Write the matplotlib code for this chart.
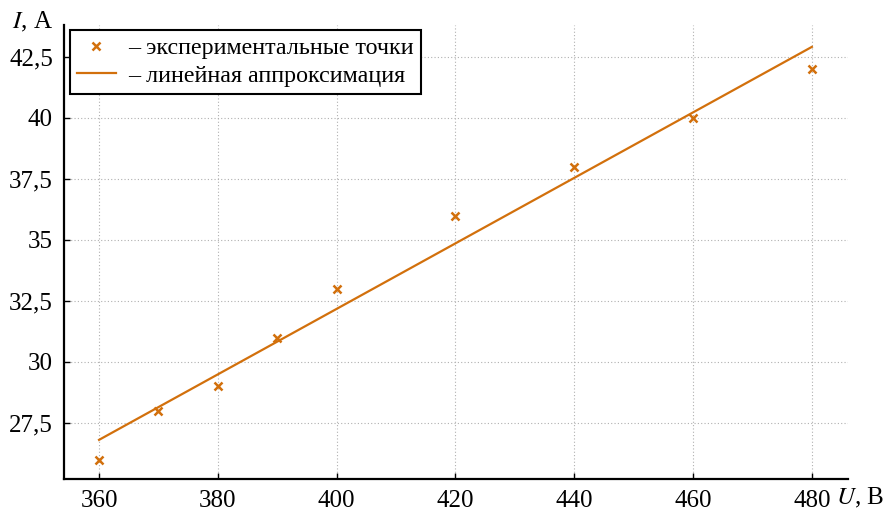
import numpy as np
import matplotlib.pyplot as plt
from matplotlib.ticker import FuncFormatter

plt.rcParams['font.family'] = ['Liberation Serif', 'DejaVu Serif']
plt.rcParams['mathtext.fontset'] = 'stix'

# measured points
U = [360, 370, 380, 390, 400, 420, 440, 460, 480]
I = [26, 28, 29, 31, 33, 36, 38, 40, 42]

xticks = [360, 380, 400, 420, 440, 460, 480]
yticks = [27.5, 30, 32.5, 35, 37.5, 40, 42.5]

k, b = np.polyfit(U, I, 1)
u_fit = np.array([U[0], U[-1]])

col = '#d2700c'

fig = plt.figure(figsize=(8.89, 5.13), dpi=100)
ax = fig.add_axes([0.072, 0.066, 0.882, 0.885])

ax.plot(U, I, 'x', color=col, ms=6, mew=1.8, label='– экспериментальные точки', zorder=3)
ax.plot(u_fit, k * u_fit + b, '-', color=col, lw=1.6, label='– линейная аппроксимация', zorder=2)

ax.set_xlim(354.1, 486.1)
ax.set_ylim(25.2, 43.8)
ax.set_xticks(xticks)
ax.set_yticks(yticks)
ax.xaxis.set_major_formatter(FuncFormatter(lambda v, p: f'{v:g}'.replace('.', ',')))
ax.yaxis.set_major_formatter(FuncFormatter(lambda v, p: f'{v:g}'.replace('.', ',')))
ax.tick_params(direction='in', length=4, width=1, labelsize=18, pad=8)

ax.grid(True, ls=(0, (1, 2)), color='#b0b0b0', lw=0.8)
for s in ['top', 'right']:
    ax.spines[s].set_visible(False)
for s in ['left', 'bottom']:
    ax.spines[s].set_linewidth(1.6)

leg = ax.legend(loc='upper left', bbox_to_anchor=(70 / 889, 1 - 30 / 513),
                bbox_transform=fig.transFigure, fontsize=17.3, fancybox=False,
                framealpha=1, edgecolor='black', borderaxespad=0,
                handlelength=1.6, handletextpad=0.5, borderpad=0.3, labelspacing=0.25)
leg.get_frame().set_linewidth(1.5)

fig.text(12 / 889, 1 - 22 / 513, '$I$, А', fontsize=18, va='center', ha='left')
fig.text(836 / 889, 1 - 498 / 513, '$U$, В', fontsize=18, va='center', ha='left')

fig.savefig('out.png', dpi=100)
